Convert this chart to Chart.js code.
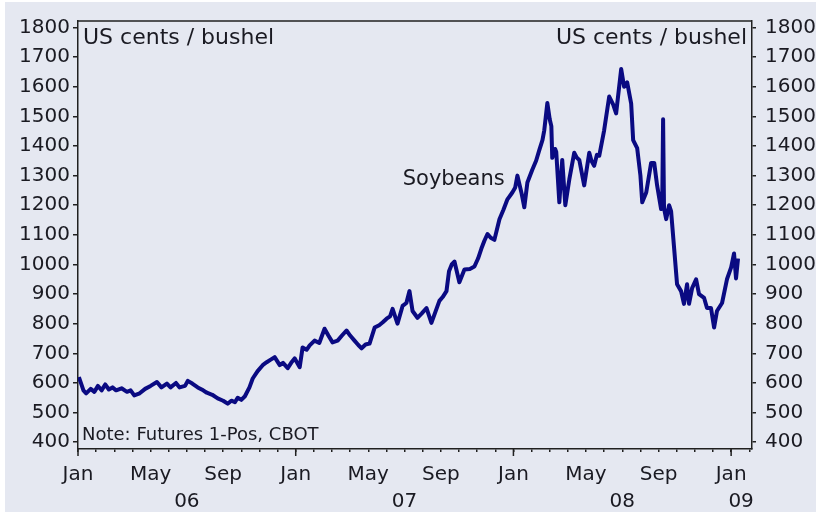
<!DOCTYPE html>
<html>
<head>
<meta charset="utf-8">
<script src="https://cdn.jsdelivr.net/npm/chart.js@4.4.1/dist/chart.umd.min.js"></script>
<style>
  html, body { margin: 0; padding: 0; background: #fff; }
  #chart { display: block; }
</style>
</head>
<body>
<canvas id="chart" width="816" height="512"></canvas>
<script>
// months since Jan 2006
const months = [
  0.05, 0.3, 0.45, 0.7, 0.9, 1.1, 1.3, 1.5, 1.7, 1.9, 2.1, 2.4, 2.7, 2.9, 3.1, 3.4, 3.7, 4.0, 4.35, 4.6,
  4.9, 5.1, 5.4, 5.6, 5.9, 6.05, 6.3, 6.6, 6.9, 7.1, 7.4, 7.7, 8.0, 8.25, 8.45, 8.65, 8.8, 9.0, 9.2, 9.45,
  9.63, 9.9, 10.18, 10.4, 10.6, 10.84, 11.12, 11.3, 11.56, 11.75, 11.94, 12.22, 12.38, 12.6, 12.77, 13.04, 13.3, 13.59, 13.8, 14.03,
  14.31, 14.55, 14.8, 15.0, 15.24, 15.45, 15.63, 15.85, 16.07, 16.35, 16.6, 16.8, 17.01, 17.2, 17.34, 17.61, 17.89, 18.1, 18.27, 18.44,
  18.71, 18.95, 19.21, 19.48, 19.7, 19.92, 20.1, 20.31, 20.45, 20.6, 20.75, 21.02, 21.3, 21.6, 21.85, 22.05, 22.23, 22.4, 22.57, 22.75,
  22.95, 23.23, 23.45, 23.67, 23.94, 24.1, 24.22, 24.45, 24.6, 24.77, 25.04, 25.25, 25.43, 25.6, 25.7, 25.87, 26.0, 26.09, 26.14, 26.3,
  26.36, 26.53, 26.69, 26.86, 27.08, 27.35, 27.5, 27.63, 27.9, 28.18, 28.3, 28.45, 28.6, 28.73, 29.0, 29.28, 29.5, 29.66, 29.94, 30.1,
  30.27, 30.49, 30.6, 30.82, 31.0, 31.1, 31.32, 31.59, 31.76, 31.92, 32.14, 32.2, 32.25, 32.3, 32.42, 32.58, 32.69, 32.86, 33.02, 33.24,
  33.4, 33.57, 33.68, 33.85, 34.07, 34.23, 34.51, 34.67, 34.89, 35.06, 35.22, 35.5, 35.77, 36.0, 36.16, 36.27, 36.38
];
// US cents / bushel
const soybeans = [
  620, 575, 565, 580, 570, 590, 575, 595, 578, 585, 575, 582, 570, 575, 558, 565, 580, 590, 603, 585,
  598, 585, 600, 585, 590, 607, 598, 585, 575, 567, 560, 548, 540, 530, 540, 535, 550, 543, 555, 585,
  615, 640, 660, 670, 678, 687, 660, 668, 650, 668, 683, 653, 720, 712, 727, 743, 735, 783, 760, 737,
  743, 760, 777, 760, 743, 728, 717, 730, 733, 787, 795, 805, 817, 825, 850, 800, 860, 870, 910, 843,
  820, 835, 853, 803, 840, 877, 890, 910, 977, 1000, 1010, 940, 983, 985, 993, 1020, 1053, 1080, 1103, 1090,
  1083, 1153, 1185, 1220, 1243, 1260, 1300, 1240, 1193, 1277, 1320, 1350, 1387, 1420, 1453, 1545, 1490, 1467, 1360, 1390,
  1380, 1210, 1353, 1200, 1287, 1377, 1360, 1353, 1267, 1377, 1350, 1333, 1370, 1367, 1453, 1567, 1540, 1510, 1660, 1600,
  1615, 1543, 1420, 1393, 1300, 1210, 1243, 1343, 1343, 1267, 1187, 1200, 1490, 1190, 1153, 1200, 1180, 1053, 933, 910,
  867, 933, 867, 920, 950, 900, 887, 853, 853, 787, 843, 870, 950, 990, 1037, 953, 1020
];
const monthNames = ['Jan', 'May', 'Sep'];
const monthTicks = Array.from({ length: 38 }, (_, i) => i);
const yearLabels = ['06', '07', '08', '09'];
const yearCentres = [6, 18, 30, 36.55];
const yTicks = [400, 500, 600, 700, 800, 900, 1000, 1100, 1200, 1300, 1400, 1500, 1600, 1700, 1800];

const FONT = 'DejaVu Sans, Verdana, sans-serif';
const BG = '#e5e8f1';
const AXIS = '#202020';
const TEXT = '#1a1a22';

const frame = {
  id: 'frame',
  beforeDraw(chart) {
    const ctx = chart.ctx;
    ctx.save();
    ctx.fillStyle = '#ffffff';
    ctx.fillRect(0, 0, chart.width, chart.height);
    ctx.fillStyle = BG;
    ctx.fillRect(5, 2, chart.width - 5, chart.height - 2);
    ctx.restore();
  },
  afterDraw(chart) {
    const { ctx, chartArea: a, scales: { x, y } } = chart;
    ctx.save();
    ctx.strokeStyle = AXIS;
    ctx.lineWidth = 1.5;
    ctx.beginPath();
    ctx.moveTo(a.left, a.top);
    ctx.lineTo(a.right, a.top);
    // longer ticks at January
    for (let m = 0; m <= x.max; m += 12) {
      const px = x.getPixelForValue(m);
      ctx.moveTo(px, a.bottom);
      ctx.lineTo(px, a.bottom + 7);
    }
    ctx.stroke();

    ctx.fillStyle = TEXT;
    ctx.textBaseline = 'middle';
    ctx.font = '20px ' + FONT;
    ctx.textAlign = 'center';
    yearLabels.forEach((t, i) => ctx.fillText(t, x.getPixelForValue(yearCentres[i]), a.bottom + 53));

    ctx.font = '22px ' + FONT;
    ctx.textAlign = 'left';
    ctx.fillText('US cents / bushel', a.left + 5, a.top + 17);
    ctx.textAlign = 'right';
    ctx.fillText('US cents / bushel', a.right - 5, a.top + 17);
    ctx.font = '21px ' + FONT;
    ctx.textAlign = 'left';
    ctx.fillText('Soybeans', x.getPixelForValue(17.9), y.getPixelForValue(1288));

    ctx.font = '18px ' + FONT;
    ctx.fillText('Note: Futures 1-Pos, CBOT', a.left + 4, a.bottom - 14);
    ctx.restore();
  }
};

const tickFont = { family: FONT, size: 20 };
const plain = v => String(v);

new Chart(document.getElementById('chart'), {
  type: 'line',
  data: {
    datasets: [{
      label: 'Soybeans',
      data: months.map((m, i) => ({ x: m, y: soybeans[i] })),
      borderColor: '#0a0a82',
      borderWidth: 4,
      pointRadius: 0,
      tension: 0,
      borderJoinStyle: 'round'
    }]
  },
  options: {
    responsive: false,
    animation: false,
    layout: { padding: { top: 16, right: 0, bottom: 0, left: 0 } },
    plugins: { legend: { display: false }, tooltip: { enabled: false } },
    scales: {
      x: {
        type: 'linear',
        min: 0,
        max: 37.15,
        afterBuildTicks: s => { s.ticks = monthTicks.map(v => ({ value: v })); },
        afterFit: s => { s.height = 63; },
        ticks: {
          autoSkip: false,
          maxRotation: 0,
          padding: 11,
          font: tickFont,
          color: TEXT,
          callback: v => (v % 4 === 0 ? monthNames[(v % 12) / 4] : '')
        },
        grid: { drawOnChartArea: false, tickLength: 3, color: AXIS, lineWidth: 1.5 },
        border: { color: AXIS, width: 1.5 }
      },
      y: {
        position: 'left',
        min: 377,
        max: 1822,
        afterBuildTicks: s => { s.ticks = yTicks.map(v => ({ value: v })); },
        afterFit: s => { s.width = 78; },
        ticks: { font: tickFont, color: TEXT, padding: 3, callback: plain },
        grid: { drawOnChartArea: false, tickLength: 5, color: AXIS, lineWidth: 1.5 },
        border: { color: AXIS, width: 1.5 }
      },
      y2: {
        position: 'right',
        min: 377,
        max: 1822,
        afterBuildTicks: s => { s.ticks = yTicks.map(v => ({ value: v })); },
        afterFit: s => { s.width = 64; },
        ticks: { font: tickFont, color: TEXT, padding: 9, callback: plain },
        grid: { drawOnChartArea: false, tickLength: 4, color: AXIS, lineWidth: 1.5 },
        border: { color: AXIS, width: 1.5 }
      }
    }
  },
  plugins: [frame]
});
</script>
</body>
</html>
